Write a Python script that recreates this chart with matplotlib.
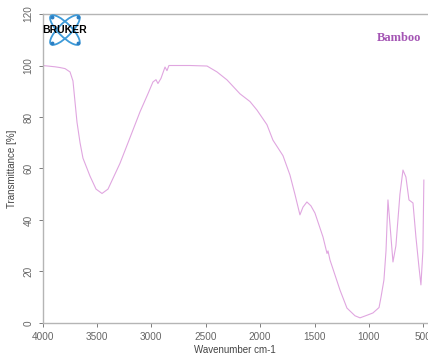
# FTIR spectrum of bamboo, redrawn in the old Bruker/R style
import matplotlib
matplotlib.use('Agg')
import matplotlib.pyplot as plt
from matplotlib.patches import Ellipse

# Wavenumber (cm-1) and transmittance (%)
wn = [4000, 3885, 3839, 3793, 3747, 3720, 3683, 3655, 3628, 3563, 3508, 3453,
      3398, 3343, 3288, 3214, 3104, 3031, 2985, 2957, 2939, 2911, 2874, 2856,
      2838, 2645, 2488, 2396, 2304, 2185, 2093, 2029, 1937, 1882, 1790, 1726,
      1680, 1634, 1606, 1570, 1533, 1496, 1422, 1385, 1376, 1358, 1266, 1202,
      1128, 1082, 1018, 963, 907, 889, 862, 843, 825, 806, 779, 752, 715, 687,
      660, 632, 595, 568, 540, 522, 504, 495]
trans = [100, 99.5, 99.2, 98.8, 97.5, 94, 78, 70, 64, 57, 52, 50.3,
         52, 57, 62, 70, 82, 89, 93.6, 94.5, 93, 95, 99.4, 98,
         100, 100, 99.8, 97.5, 94.4, 89, 86, 82.7, 77, 71, 65, 57.5,
         50, 42, 45, 47, 45.5, 42.7, 33.4, 27, 28, 24.5, 12.8, 5.8,
         2.8, 2, 3, 3.9, 6, 10, 16.7, 28, 47.8, 38, 23.7, 30, 50, 59.4,
         56.7, 47.8, 46.6, 33.4, 21.7, 14.8, 28, 55.5]

xticks = [4000, 3500, 3000, 2500, 2000, 1500, 1000, 500]
yticks = [0, 20, 40, 60, 80, 100, 120]
sample = 'Bamboo'

plt.rcParams['font.family'] = ['Liberation Sans', 'DejaVu Sans']

fig = plt.figure(figsize=(4.28, 3.61), dpi=100)
ax = fig.add_axes([0.0993, 0.1053, 0.9007, 0.8559])

ax.plot(wn, trans, color='#e0a6e0', lw=0.8)
ax.set_xlim(4000, 457)
ax.set_ylim(0, 120)

ax.set_xticks(xticks)
ax.set_yticks(yticks)
ax.tick_params(colors='#666666', labelsize=7.2, length=3, width=0.6, direction='out')
ax.tick_params(axis='y', labelrotation=90)
for lab in ax.get_yticklabels():
    lab.set_va('center')

grey = '#b5b5b5'
for s in ['left', 'bottom', 'top']:
    ax.spines[s].set_color(grey)
    ax.spines[s].set_linewidth(1.0)
ax.spines['right'].set_visible(False)

ax.set_xlabel('Wavenumber cm-1', fontsize=7, color='#444444', labelpad=2)
ax.set_ylabel('Transmittance [%]', fontsize=7, color='#444444', labelpad=5)

# sample name
fig.text(0.983, 0.895, sample, family=['Liberation Serif', 'DejaVu Serif'],
         fontsize=9, fontweight='bold', color='#a455b4', ha='right', va='center')

# Bruker logo
lax = fig.add_axes([0.098, 0.867, 0.112, 0.0997])
lax.set_xlim(0, 48)
lax.set_ylim(0, 36)
lax.axis('off')
for ang in (45, -45):
    lax.add_patch(Ellipse((23, 18), 40, 13, angle=ang, fill=False,
                          ec='#3d9ad8', lw=1.3))
for px, py in [(10, 31), (36, 5), (10, 5), (36, 31)]:
    lax.plot(px, py, 'o', ms=1.8, color='#2b7fc4')
lax.text(23, 18, 'BRUKER', fontsize=7.5, fontweight='bold', color='black',
         ha='center', va='center')

fig.savefig('out.png', dpi=100)
